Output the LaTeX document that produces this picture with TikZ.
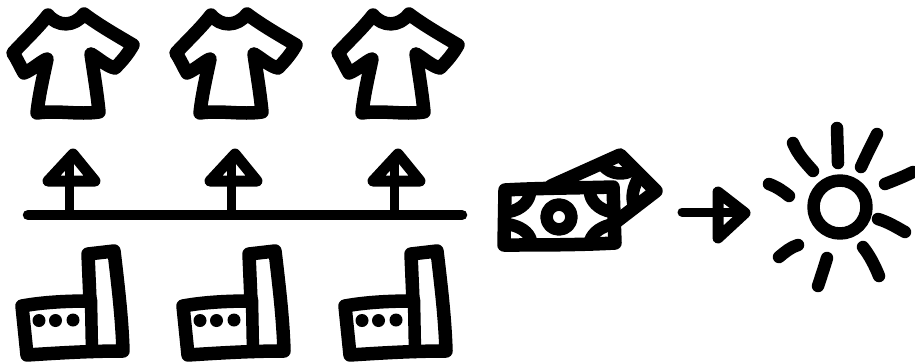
\documentclass[tikz,border=0pt]{standalone}
\tikzset{
  ink/.style={draw=black,line width=12.5pt,line cap=round,line join=round},
  bold ink/.style={draw=black,line width=13.5pt,line cap=round,line join=round},
  thin ink/.style={draw=black,line width=10.5pt,line cap=round,line join=round},
  head ink/.style={draw=black,line width=11pt,line cap=round,line join=round},
  stem ink/.style={draw=black,line width=9pt,line cap=round,line join=round},
  pics/shirt/.style={code={
    \draw[bold ink] (48,15) .. controls (58,27) and (74,27) .. (84,14)
      .. controls (100,26) and (118,36) .. (133,45)
      .. controls (128,54) and (122,61) .. (115,68)
      .. controls (108,67) and (98,58) .. (91,54)
      .. controls (94,75) and (97,92) .. (99,112)
      .. controls (78,115) and (58,110) .. (37,113)
      .. controls (39,95) and (43,78) .. (47,59)
      .. controls (40,62) and (32,70) .. (24,73)
      .. controls (20,66) and (17,59) .. (13,53)
      .. controls (25,40) and (38,28) .. (48,15) -- cycle;
  }},
  pics/uparrow/.style={code={
    \draw[stem ink] (69,215) -- (69,162);
    \draw[head ink] (48,181) -- (73,154) -- (95,181) -- cycle;
  }},
  pics/factory/.style={code={
    \draw[bold ink] (22,306) .. controls (44,302) and (68,301) .. (90,301)
      -- (88,254) -- (114,251) .. controls (118,285) and (122,318) .. (123,351)
      .. controls (90,351) and (58,353) .. (27,355) -- cycle;
    \draw[ink] (91,300) -- (92,352);
    \fill (39,320.5) circle (6.5) (55.5,320.5) circle (6.5) (73,320) circle (6.5);
  }}
}
\begin{document}
\begin{tikzpicture}[x=1pt,y=-1pt]
\useasboundingbox (0,0) rectangle (915,362);
% shirts
\pic at (0,0) {shirt};
\pic at (163,0) {shirt};
\pic at (325,0) {shirt};
% arrows and baseline
\pic at (0,0) {uparrow};
\pic at (162,0) {uparrow};
\pic at (325,0) {uparrow};
\draw[thin ink] (28,215) -- (462,215);
% factories
\pic at (0,0) {factory};
\pic at (161,0) {factory};
\pic at (323,0) {factory};
% back bill
\draw[bold ink] (551,186) -- (620,155) -- (656,191) -- (617,221);
\draw[ink] (603,165) .. controls (610,175) and (626,176) .. (633,169);
\draw[ink] (639,177) .. controls (633,187) and (631,197) .. (634,206);
% front bill
\draw[bold ink] (505,190) .. controls (540,188) and (580,188) .. (613,187)
  -- (615,243) .. controls (580,245) and (540,245) .. (504,245) -- cycle;
\draw[ink] (559,217) circle (12.5);
\draw[ink] (530,192) .. controls (530,200) and (522,210) .. (508,212);
\draw[ink] (590,192) .. controls (590,200) and (598,210) .. (612,212);
\draw[ink] (507,224) .. controls (520,226) and (529,232) .. (531,241);
\draw[ink] (614,224) .. controls (602,226) and (593,232) .. (590,241);
% right arrow
\draw[stem ink] (682,212) -- (740,212);
\draw[head ink] (718,192) -- (745,213) -- (718,238) -- cycle;
% sun
\draw[ink] (840,207) circle (26.5);
\draw[ink] (837,128) -- (838,163);
\draw[ink] (877,134) .. controls (871,146) and (866,156) .. (861,167);
\draw[ink] (913,172) .. controls (903,177) and (895,180) .. (885,184);
\draw[ink] (878,219) .. controls (888,222) and (896,227) .. (905,232);
\draw[ink] (863,247) .. controls (870,256) and (875,266) .. (879,276);
\draw[ink] (827,258) .. controls (824,268) and (821,277) .. (818,286);
\draw[ink] (798,245) .. controls (791,247) and (785,252) .. (779,257);
\draw[ink] (769,184) .. controls (777,187) and (783,191) .. (789,196);
\draw[ink] (793,143) .. controls (798,155) and (806,163) .. (813,171);
\end{tikzpicture}
\end{document}
